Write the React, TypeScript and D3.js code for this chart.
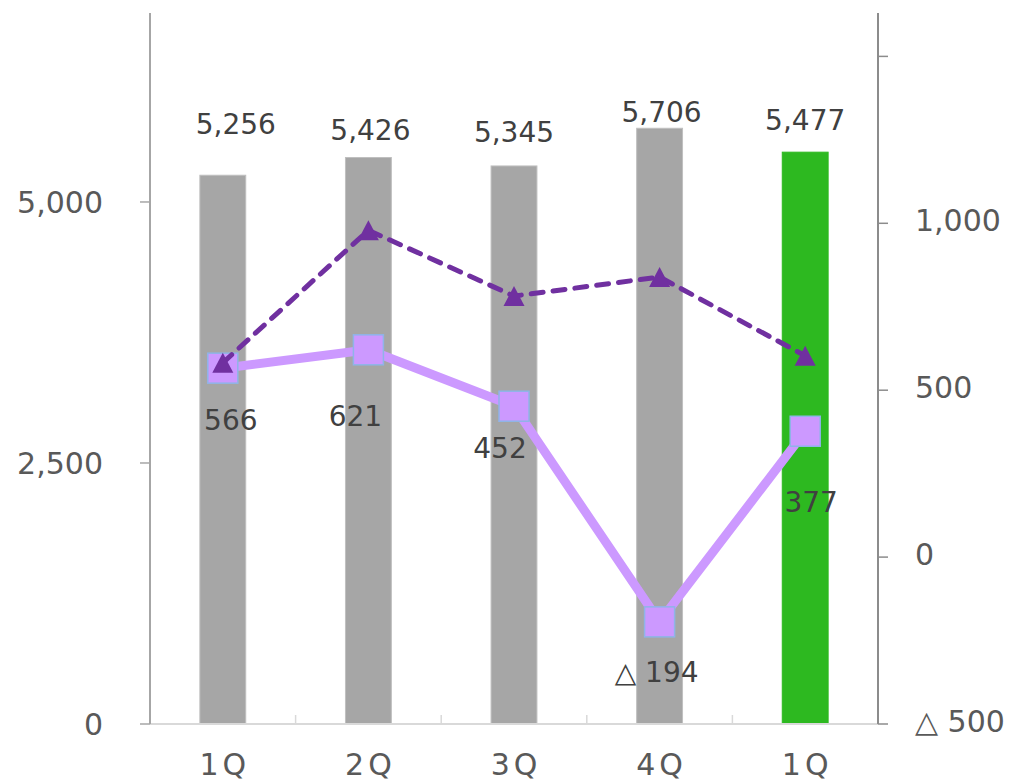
import React from "react";
import * as d3 from "d3";

// ---- data ----
const categories: string[] = ["1Q", "2Q", "3Q", "4Q", "1Q"];
const barValues: number[] = [5256, 5426, 5345, 5706, 5477];
const lineValues: number[] = [566, 621, 452, -194, 377];
const dashedValues: number[] = [582, 979, 782, 839, 603];
const leftTicks: number[] = [0, 2500, 5000];
const rightTicks: number[] = [-500, 0, 500, 1000, 1500];
const rightTickLabels: string[] = ["△ 500", "0", "500", "1,000", ""];

// label layout offsets (relative to their mark)
const barLabelDx: number[] = [13, 2, 0, 2, 0];
const barLabelDy: number[] = [-41, -17, -24, -6, -22];
const lineLabelDx: number[] = [8, -13, -14, -3, 6];
const lineLabelDy: number[] = [62, 76, 52, 60, 81];

const W = 1015;
const H = 782;
const plot = { left: 150, right: 878, top: 13, bottom: 724 };
const FONT = "'DejaVu Sans', Verdana, sans-serif";

const fmt = (v: number) =>
  v < 0 ? "△ " + d3.format(",")(-v) : d3.format(",")(v);

export default function App() {
  const x = d3
    .scaleBand<number>()
    .domain(categories.map((_, i) => i))
    .range([plot.left, plot.right])
    .paddingInner(0)
    .paddingOuter(0);
  const yL = d3.scaleLinear().domain([0, 6810]).range([plot.bottom, plot.top]);
  const yR = d3.scaleLinear().domain([-500, 1630]).range([plot.bottom, plot.top]);
  const bw = x.bandwidth() * 0.315;
  const cx = (i: number) => (x(i) as number) + x.bandwidth() / 2;

  const solidLine = d3
    .line<number>()
    .x((_, i) => cx(i))
    .y((d) => yR(d))(lineValues) as string;
  const dashedLine = d3
    .line<number>()
    .x((_, i) => cx(i))
    .y((d) => yR(d))(dashedValues) as string;

  const sq = 30;
  const tri = (px: number, py: number) => {
    const w = 21, h = 20;
    return `M${px},${py - h / 2} L${px + w / 2},${py + h / 2} L${px - w / 2},${py + h / 2} Z`;
  };

  return (
    <svg
      width={W}
      height={H}
      style={{ position: "absolute", left: 0, top: 0, background: "#fff" }}
      fontFamily={FONT}
    >
      {/* bars */}
      {barValues.map((v, i) => (
        <rect
          key={"b" + i}
          x={cx(i) - bw / 2}
          y={yL(v)}
          width={bw}
          height={yL(0) - yL(v)}
          fill={i === barValues.length - 1 ? "#2db920" : "#a6a6a6"}
          stroke={i === barValues.length - 1 ? "#2db920" : "#bfbfbf"}
          strokeWidth={1}
        />
      ))}

      {/* bottom axis */}
      <line x1={plot.left} x2={plot.right} y1={plot.bottom} y2={plot.bottom} stroke="#d9d9d9" strokeWidth={2} />
      {categories.slice(1).map((_, i) => (
        <line
          key={"ct" + i}
          x1={x(i + 1) as number}
          x2={x(i + 1) as number}
          y1={plot.bottom}
          y2={plot.bottom - 9}
          stroke="#d9d9d9"
          strokeWidth={1.5}
        />
      ))}
      {categories.map((c, i) => (
        <text
          key={"cl" + i}
          x={cx(i) + 2}
          y={775}
          textAnchor="middle"
          fontSize={30}
          fill="#595959"
          letterSpacing={4}
        >
          {c}
        </text>
      ))}

      {/* left axis */}
      <line x1={plot.left} x2={plot.left} y1={plot.top} y2={plot.bottom} stroke="#a6a6a6" strokeWidth={2} />
      {leftTicks.map((t) => (
        <g key={"lt" + t}>
          <line x1={plot.left - 10} x2={plot.left} y1={yL(t)} y2={yL(t)} stroke="#a6a6a6" strokeWidth={1.5} />
          <text x={103} y={yL(t) + 11} textAnchor="end" fontSize={30} fill="#595959">
            {d3.format(",")(t)}
          </text>
        </g>
      ))}

      {/* right axis */}
      <line x1={plot.right} x2={plot.right} y1={plot.top} y2={plot.bottom} stroke="#8c8c8c" strokeWidth={2} />
      {rightTicks.map((t, i) => (
        <g key={"rt" + t}>
          <line x1={plot.right} x2={plot.right + 10} y1={yR(t)} y2={yR(t)} stroke="#8c8c8c" strokeWidth={1.5} />
          <text x={915} y={yR(t) + 8} textAnchor="start" fontSize={30} fill="#595959">
            {rightTickLabels[i]}
          </text>
        </g>
      ))}

      {/* bar labels */}
      {barValues.map((v, i) => (
        <text
          key={"bl" + i}
          x={cx(i) + barLabelDx[i]}
          y={yL(v) + barLabelDy[i]}
          textAnchor="middle"
          fontSize={28}
          fill="#404040"
        >
          {fmt(v)}
        </text>
      ))}

      {/* solid line with squares */}
      <path d={solidLine} fill="none" stroke="#cc99ff" strokeWidth={9} strokeLinejoin="round" />
      {lineValues.map((v, i) => (
        <rect
          key={"sq" + i}
          x={cx(i) - sq / 2}
          y={yR(v) - sq / 2}
          width={sq}
          height={sq}
          fill="#cc99ff"
          stroke="#8fb4e8"
          strokeWidth={1.5}
        />
      ))}

      {/* dashed line with triangles */}
      <path
        d={dashedLine}
        fill="none"
        stroke="#7030a0"
        strokeWidth={5}
        strokeDasharray="12 10"
        strokeLinecap="round"
      />
      {dashedValues.map((v, i) => (
        <path key={"tr" + i} d={tri(cx(i), yR(v))} fill="#7030a0" />
      ))}

      {/* line labels */}
      {lineValues.map((v, i) => (
        <text
          key={"ll" + i}
          x={cx(i) + lineLabelDx[i]}
          y={yR(v) + lineLabelDy[i]}
          textAnchor="middle"
          fontSize={28}
          fill="#404040"
        >
          {fmt(v)}
        </text>
      ))}
    </svg>
  );
}
